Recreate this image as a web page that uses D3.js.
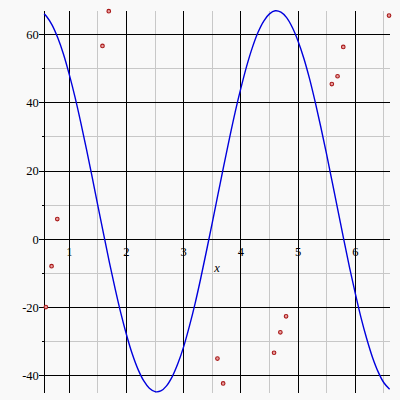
<!DOCTYPE html>
<html><head><meta charset="utf-8">
<script src="https://cdn.jsdelivr.net/npm/d3@7"></script>
<style>html,body{margin:0;padding:0;background:#f9f9f9;}svg{display:block;}</style>
</head><body>
<svg id="c" width="400" height="400"></svg>
<script>
// curve samples
const curveX = [0.56,0.6,0.7,0.8,0.9,1.0,1.1,1.2,1.3,1.4,1.5,1.6,1.7,1.8,1.9,2.0,2.1,2.2,2.3,2.4,2.5,2.6,2.7,2.8,2.9,3.0,3.1,3.2,3.3,3.4,3.5,3.6,3.7,3.8,3.9,4.0,4.1,4.2,4.3,4.4,4.5,4.6,4.7,4.8,4.9,5.0,5.1,5.2,5.3,5.4,5.5,5.6,5.7,5.8,5.9,6.0,6.1,6.2,6.3,6.4,6.5,6.6];
const curveY = [66.1,65.4,62.8,59.0,54.2,48.3,41.7,34.3,26.4,18.2,9.8,1.5,-6.7,-14.4,-21.6,-28.0,-33.6,-38.1,-41.5,-43.7,-44.7,-44.5,-43.0,-40.3,-36.4,-31.5,-25.5,-18.8,-11.3,-3.3,4.9,13.2,21.5,29.6,37.3,44.3,50.7,56.2,60.7,64.0,66.1,67.0,66.6,65.0,62.1,58.1,53.1,47.1,40.2,32.7,24.8,16.5,8.2,-0.2,-8.3,-15.9,-23.0,-29.2,-34.6,-38.9,-42.1,-44.0];
// data points
const pointX = [0.59,0.69,0.79,1.58,1.69,3.59,3.69,4.58,4.69,4.79,5.59,5.69,5.79,6.59];
const pointY = [-19.9,-7.9,5.9,56.7,66.9,-35.0,-42.3,-33.3,-27.3,-22.6,45.5,47.8,56.4,65.6];
// ticks
const xMajor = [1,2,3,4,5,6];
const xMinor = [1.5,2.5,3.5,4.5,5.5,6.5];
const yMajor = [-40,-20,0,20,40,60];
const yMinor = [-30,-10,10,30,50];
const xLabel = "x";

const svg = d3.select("#c");
const x = d3.scaleLinear().domain([0.563, 6.6]).range([44.3, 389.6]);
const y = d3.scaleLinear().domain([-45.1, 67]).range([393, 10.8]);
const [x0, x1] = x.range();
const [yb, yt] = y.range();

svg.append("rect").attr("width",400).attr("height",400).attr("fill","#f9f9f9");

const g = svg.append("g").attr("shape-rendering","crispEdges");
// minor grid
g.selectAll(".vm").data(xMinor).join("line").attr("x1",d=>x(d)).attr("x2",d=>x(d)).attr("y1",yt).attr("y2",yb).attr("stroke","#c8c8c8");
g.selectAll(".hm").data(yMinor).join("line").attr("x1",x0).attr("x2",x1).attr("y1",d=>y(d)).attr("y2",d=>y(d)).attr("stroke","#c8c8c8");
// major grid
g.selectAll(".vM").data(xMajor).join("line").attr("x1",d=>x(d)).attr("x2",d=>x(d)).attr("y1",yt).attr("y2",yb).attr("stroke","#000");
g.selectAll(".hM").data(yMajor).join("line").attr("x1",x0-5).attr("x2",x1).attr("y1",d=>y(d)).attr("y2",d=>y(d)).attr("stroke","#000");
// minor y ticks
g.selectAll(".ym").data(yMinor).join("line").attr("x1",x0-2.5).attr("x2",x0).attr("y1",d=>y(d)).attr("y2",d=>y(d)).attr("stroke","#000");
// y axis line
g.append("line").attr("x1",x0).attr("x2",x0).attr("y1",yt).attr("y2",yb).attr("stroke","#000");

// labels
const font = "'Liberation Serif','DejaVu Serif',serif";
svg.selectAll(".yl").data(yMajor).join("text").attr("x",x0-5.5).attr("y",d=>y(d)+4.3)
  .attr("text-anchor","end").attr("font-family",font).attr("font-size",12.5).attr("fill","#000").text(d=>d);
svg.selectAll(".xl").data(xMajor).join("text").attr("x",d=>x(d)).attr("y",y(0)+17)
  .attr("text-anchor","middle").attr("font-family",font).attr("font-size",12.5).attr("fill","#000").text(d=>d);
svg.append("text").attr("x",(x0+x1)/2).attr("y",y(0)+33).attr("text-anchor","middle")
  .attr("font-family",font).attr("font-style","italic").attr("font-size",12.5).attr("fill","#000").text(xLabel);

// curve
const line = d3.line().x(d=>x(d[0])).y(d=>y(d[1])).curve(d3.curveCatmullRom);
svg.append("path").datum(curveX.map((v,i)=>[v,curveY[i]])).attr("d",line)
  .attr("fill","none").attr("stroke","#0000dd").attr("stroke-width",1.4);

// points
svg.selectAll(".pt").data(pointX.map((v,i)=>[v,pointY[i]])).join("circle")
  .attr("cx",d=>x(d[0])).attr("cy",d=>y(d[1])).attr("r",1.8)
  .attr("fill","#e8a0a0").attr("stroke","#a81818").attr("stroke-width",1.1);
</script>
</body></html>
